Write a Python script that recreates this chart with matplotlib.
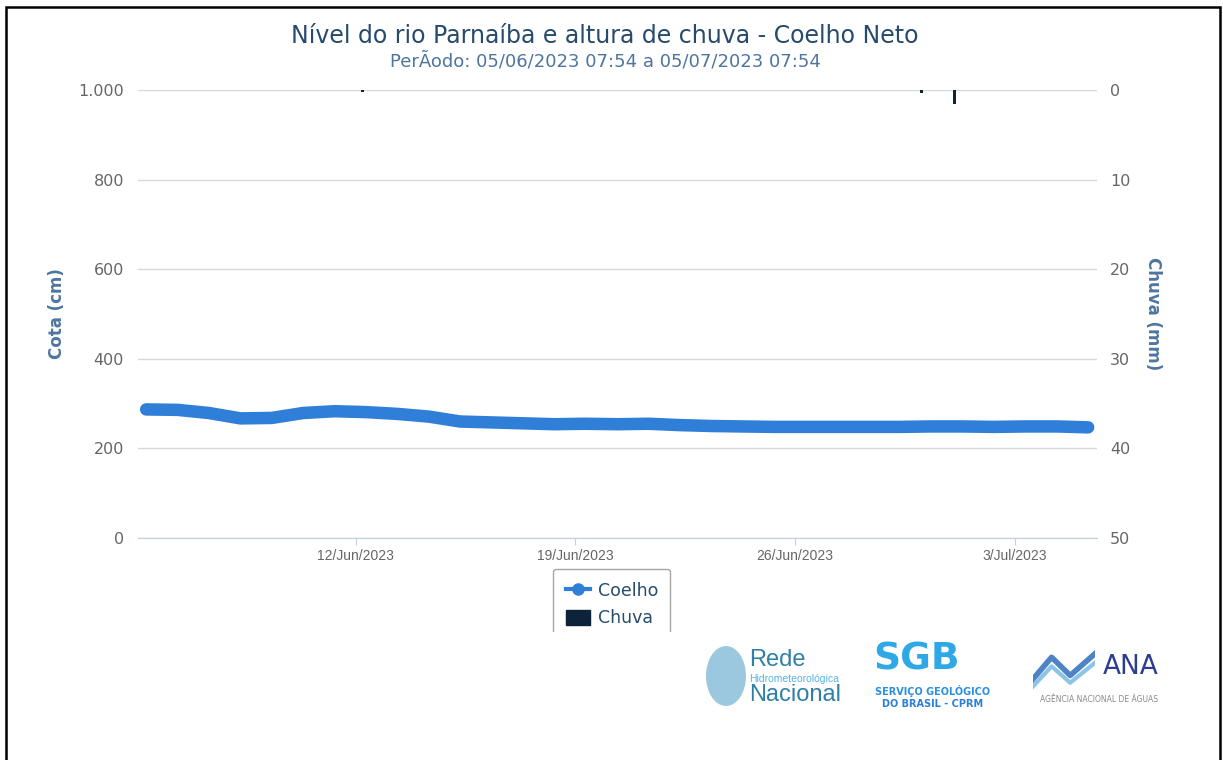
import matplotlib
matplotlib.use('Agg')
import matplotlib.pyplot as plt
from matplotlib import font_manager
from matplotlib.patches import Rectangle, Ellipse
from matplotlib.lines import Line2D
import pandas as pd

# ---------------- data ----------------
level_start = '2023-06-05 07:54'
level_cm = [287, 286, 279, 267, 268, 279, 283, 281, 277, 271, 260, 258, 256,
            254, 255, 254, 255, 252, 250, 249, 248, 248, 248, 248, 248, 249,
            249, 248, 249, 249, 247]
rain_times = ['2023-06-12 05:30', '2023-06-30 00:40', '2023-07-01 02:00']
rain_mm = [0.2, 0.3, 1.6]
xtick_dates = ['2023-06-12', '2023-06-19', '2023-06-26', '2023-07-03']
xtick_labels = ['12/Jun/2023', '19/Jun/2023', '26/Jun/2023', '3/Jul/2023']
yleft_ticks = [0, 200, 400, 600, 800, 1000]
yleft_labels = ['0', '200', '400', '600', '800', '1.000']
yright_ticks = [0, 10, 20, 30, 40, 50]
title = 'Nível do rio Parnaíba e altura de chuva - Coelho Neto'
subtitle = 'PerÃodo: 05/06/2023 07:54 a 05/07/2023 07:54'

level_dates = pd.date_range(level_start, periods=len(level_cm), freq='D')
rain_dates = pd.to_datetime(rain_times)


def has_font(name):
    try:
        font_manager.findfont(name, fallback_to_default=False)
        return True
    except Exception:
        return False


narrow = 'Liberation Sans Narrow' if has_font('Liberation Sans Narrow') else 'Liberation Sans'

W, H = 1223, 760
fig = plt.figure(figsize=(W / 100, H / 100), dpi=100)
fig.patch.set_facecolor('white')

L, R, T, B = 138, 1097, 90, 538
ax = fig.add_axes([L / W, 1 - B / H, (R - L) / W, (B - T) / H])
ax2 = ax.twinx()

BLUE = '#2f7ed8'
NAVY = '#0d233a'

ax.plot(level_dates, level_cm, color=BLUE, lw=9, solid_capstyle='round',
        solid_joinstyle='round', zorder=3)
ax2.bar(rain_dates, rain_mm, width=0.09, color=NAVY, zorder=2)

ax.set_xlim(pd.Timestamp('2023-06-05 01:40'), pd.Timestamp('2023-07-05 14:40'))
ax.set_ylim(0, 1000)
ax2.set_ylim(50, 0)

ax.set_yticks(yleft_ticks)
ax.set_yticklabels(yleft_labels)
ax2.set_yticks(yright_ticks)
ax2.set_yticklabels([str(v) for v in yright_ticks])
ax.set_xticks(pd.to_datetime(xtick_dates))
ax.set_xticklabels(xtick_labels)

ax.grid(axis='y', color='#d8d8d8', lw=1)
ax.set_axisbelow(True)
for a in (ax, ax2):
    for s in a.spines.values():
        s.set_visible(False)
ax.spines['bottom'].set_visible(True)
ax.spines['bottom'].set_color('#c0d0e0')
ax.tick_params(axis='y', length=0, pad=10, labelsize=11.5, labelcolor='#666666')
ax2.tick_params(axis='y', length=0, pad=9.5, labelsize=11.5, labelcolor='#666666')
ax.tick_params(axis='x', length=5, color='#c0d0e0', direction='out', pad=3,
               labelsize=10, labelcolor='#666666')
for lab in ax.get_xticklabels():
    lab.set_fontfamily(narrow)

# axis titles
fig.text(57 / W, 1 - 314 / H, 'Cota (cm)', color='#4d759e', fontsize=12,
         fontweight='bold', rotation=90, ha='center', va='center')
fig.text(1153 / W, 1 - 314 / H, 'Chuva (mm)', color='#4d759e', fontsize=12,
         fontweight='bold', rotation=-90, ha='center', va='center')

fig.text(605 / W, 1 - 36 / H, title, ha='center', va='center',
         fontsize=17, color='#274b6d')
fig.text(605 / W, 1 - 61 / H, subtitle, ha='center', va='center',
         fontsize=13, color='#4d759e')

# legend
h1 = Line2D([], [], color=BLUE, lw=3, marker='o', markersize=8)
h2 = Rectangle((0, 0), 1, 1, color=NAVY)
leg = fig.legend([h1, h2], ['Coelho', 'Chuva'], loc='upper left',
                 bbox_to_anchor=(553 / W, 1 - 569 / H), borderaxespad=0,
                 fontsize=12.5, handlelength=1.4, handleheight=0.95,
                 handletextpad=0.45, labelspacing=0.55, borderpad=0.72,
                 frameon=True, fancybox=True)
leg.get_frame().set_edgecolor('#909090')
leg.get_frame().set_linewidth(1)
for t in leg.get_texts():
    t.set_color('#274b6d')
fig.patches.append(Rectangle((540 / W, 0), 150 / W, 1 - 632 / H,
                             transform=fig.transFigure, facecolor='white',
                             edgecolor='none', zorder=10))

# logos (approximated with text)
fig.patches.append(Ellipse((726 / W, 1 - 676 / H), 40 / W, 60 / H,
                           transform=fig.transFigure, facecolor='#4a9cc4',
                           alpha=0.55, edgecolor='none', zorder=11))
fig.text(749 / W, 1 - 660 / H, 'Rede', fontsize=17, color='#2f7fa6',
         va='center', ha='left', family=narrow, zorder=12)
fig.text(749 / W, 1 - 679 / H, 'Hidrometeorológica', fontsize=7.5,
         color='#55b4e2', va='center', ha='left', family=narrow, zorder=12)
fig.text(749 / W, 1 - 695 / H, 'Nacional', fontsize=17, color='#2f7fa6',
         va='center', ha='left', family=narrow, zorder=12)

fig.text(917 / W, 1 - 660 / H, 'SGB', fontsize=27, color='#2ea8e6',
         fontweight='bold', va='center', ha='center', zorder=12)
fig.text(933 / W, 1 - 691 / H, 'SERVIÇO GEOLÓGICO', fontsize=7,
         color='#2b8fe0', fontweight='bold', va='center', ha='center', zorder=12)
fig.text(933 / W, 1 - 704 / H, 'DO BRASIL - CPRM', fontsize=7,
         color='#2b7fd8', fontweight='bold', va='center', ha='center', zorder=12)

fig.text(1131 / W, 1 - 667 / H, 'ANA', fontsize=19, color='#2c3e8c',
         va='center', ha='center', zorder=12)
fig.text(1099 / W, 1 - 700 / H, 'AGÊNCIA NACIONAL DE ÁGUAS', fontsize=5.5,
         color='#888888', va='center', ha='center', zorder=12)
ax_w = fig.add_axes([1033 / W, 1 - 690 / H, 62 / W, 40 / H])
ax_w.axis('off')
ax_w.plot([0, 0.3, 0.6, 1], [0.2, 0.8, 0.3, 0.9], color='#4f83c4', lw=4)
ax_w.plot([0, 0.3, 0.6, 1], [0.0, 0.55, 0.1, 0.65], color='#8cc4e8', lw=3)
ax_w.set_xlim(0, 1)
ax_w.set_ylim(-0.1, 1)

# outer frame
fig.patches.append(Rectangle((6 / W, -0.01), (1220 - 6) / W, 1 - 7 / H + 0.01,
                             transform=fig.transFigure, facecolor='none',
                             edgecolor='black', lw=1.8, zorder=20))

fig.savefig('out.png', dpi=100)
